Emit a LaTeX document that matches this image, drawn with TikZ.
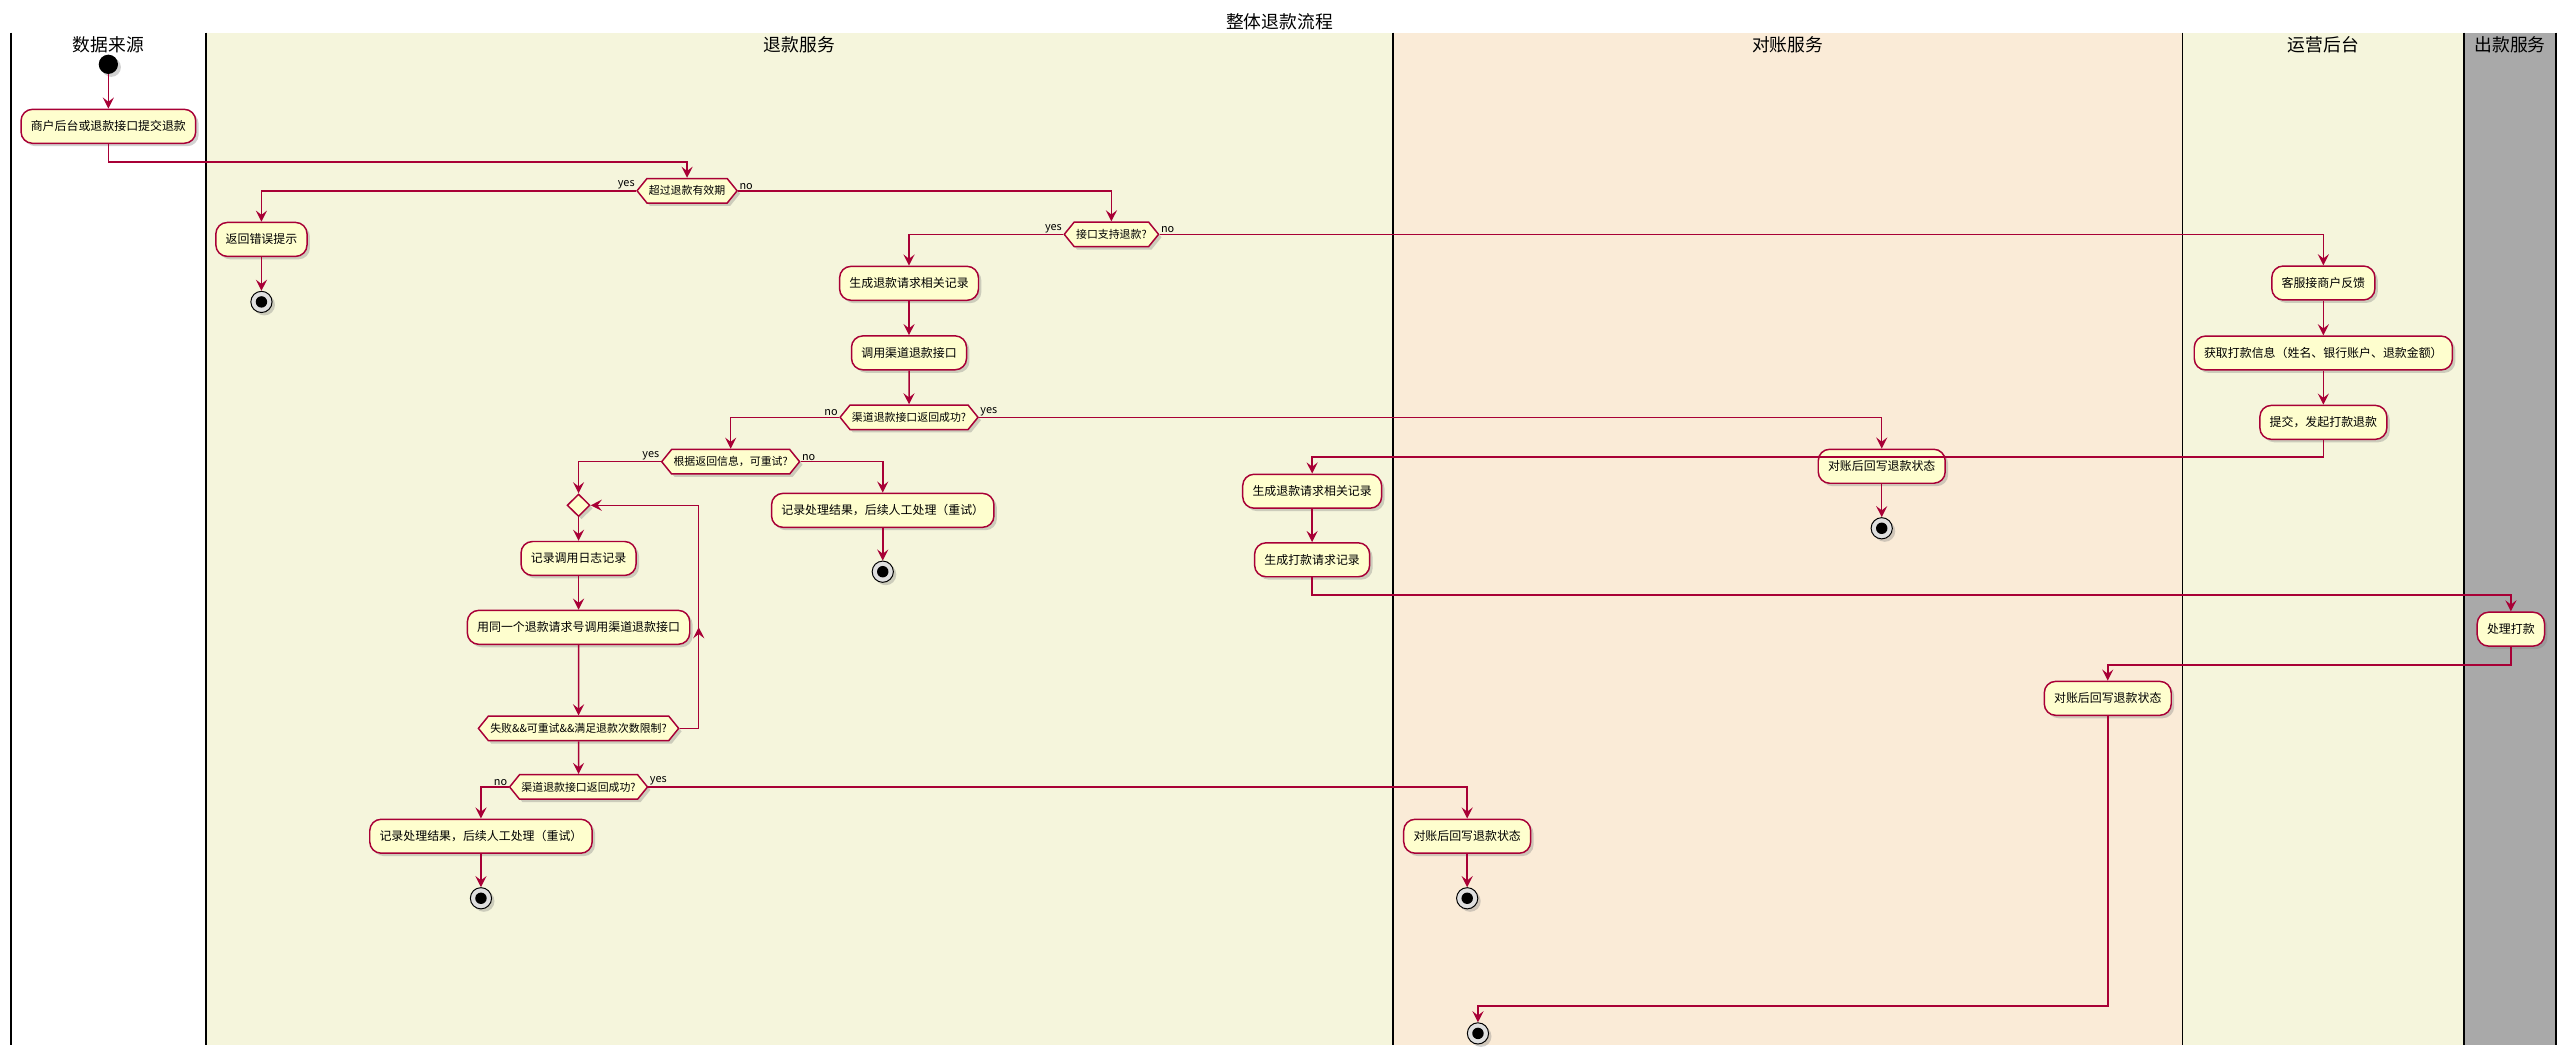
\documentclass[tikz,border=0pt]{standalone}
\usepackage{fontspec}
\setmainfont{Noto Sans CJK SC}
\usetikzlibrary{positioning, arrows.meta, shapes.geometric, shapes.symbols, shadows}
\definecolor{umlred}{HTML}{A80036}
\definecolor{umlfill}{HTML}{FEFECE}
\definecolor{laneA}{HTML}{F5F5DC}
\definecolor{laneB}{HTML}{FAEBD7}
\definecolor{laneC}{HTML}{A9A9A9}
\tikzset{
    flow/.style={draw=umlred, line width=0.45mm, -{Stealth[length=3.4mm, width=3.4mm, inset=1.3mm]}},
    umlshadow/.style={drop shadow={shadow xshift=0.9mm, shadow yshift=-0.9mm, opacity=0.35}},
    act/.style={rectangle, rounded corners=3.5mm, draw=umlred, line width=0.45mm, fill=umlfill,
        minimum height=10.4mm, inner xsep=3mm, font=\fontsize{10.4}{12}\selectfont, umlshadow},
    choice/.style={signal, signal to=west and east, signal pointer angle=102, draw=umlred,
        line width=0.45mm, fill=umlfill, minimum height=7.5mm, inner xsep=0.6mm, inner ysep=0.5mm,
        font=\fontsize{9.5}{11}\selectfont, umlshadow},
    merge/.style={diamond, draw=umlred, line width=0.45mm, fill=umlfill, inner sep=0,
        minimum width=7mm, minimum height=6.9mm, umlshadow},
    startpt/.style={circle, fill=black, minimum size=5.9mm, inner sep=0, umlshadow},
    endpt/.style={circle, draw=black, line width=0.3mm, fill=gray!25, minimum size=6.5mm, inner sep=0,
        path picture={\fill[black] (path picture bounding box.center) circle (1.75mm);}, umlshadow},
    lanetitle/.style={font=\fontsize{15.5}{18}\selectfont},
    lbl/.style={font=\fontsize{9.5}{11}\selectfont, inner sep=0.4mm},
}

\begin{document}
\begin{tikzpicture}[x=0.5mm, y=-0.5mm]
    \fill[white, use as bounding box] (0,0) rectangle (1568,646);
    % swimlanes
    \fill[laneA] (126.2,20) rectangle (853.5,640);
    \fill[laneB] (853.5,20) rectangle (1337.3,640);
    \fill[laneA] (1337.3,20) rectangle (1510,640);
    \fill[laneC] (1510,20) rectangle (1566,640);
    \foreach \x in {6.6,126.2,853.5,1337.3,1510,1566}
        \draw[line width=0.55mm] (\x,20) -- (\x,640);

    \node[lanetitle] (title) at (784,13.3) {整体退款流程};
    \node[lanetitle] (src) at (66.4,27.6) {数据来源};
    \node[lanetitle] (refund) at (489.8,27.6) {退款服务};
    \node[lanetitle] (recon) at (1095.4,27.6) {对账服务};
    \node[lanetitle] (ops) at (1423.6,27.6) {运营后台};
    \node[lanetitle] (pay) at (1538,27.6) {出款服务};

    % nodes
    \node[startpt] (s0) at (66.4,39.4) {};
    \node[act] (a1) at (66.4,77.4) {商户后台或退款接口提交退款};
    \node[choice] (d1) at (421,116.9) {超过退款有效期};
    \node[act] (a2) at (160.2,146.7) {返回错误提示};
    \node[endpt] (e1) at (160.2,185) {};
    \node[choice] (d2) at (681,143.6) {接口支持退款?};
    \node[act] (a3) at (557,173.6) {生成退款请求相关记录};
    \node[act] (a4) at (557,216.2) {调用渠道退款接口};
    \node[choice] (d3) at (557,255.7) {渠道退款接口返回成功?};
    \node[choice] (d4) at (447.7,282.9) {根据返回信息，可重试?};
    \node[act] (a5) at (540.9,312.7) {记录处理结果，后续人工处理（重试）};
    \node[endpt] (e2) at (540.9,350.3) {};
    \node[merge] (m1) at (354.5,309.6) {};
    \node[act] (a6) at (354.5,342.2) {记录调用日志记录};
    \node[act] (a7) at (354.5,384.4) {用同一个退款请求号调用渠道退款接口};
    \node[choice] (d5) at (354.5,446.3) {失败\&\&可重试\&\&满足退款次数限制?};
    \node[choice] (d6) at (354.5,482.2) {渠道退款接口返回成功?};
    \node[act] (a8) at (294.7,512.4) {记录处理结果，后续人工处理（重试）};
    \node[endpt] (e3) at (294.7,550.4) {};
    \node[act] (b1) at (899,512.4) {对账后回写退款状态};
    \node[endpt] (e4) at (899,550.4) {};
    \node[act] (b2) at (1153,285.7) {对账后回写退款状态};
    \node[endpt] (e5) at (1153,323.7) {};
    \node[act] (c1) at (1423.6,173.4) {客服接商户反馈};
    \node[act] (c2) at (1423.6,216.3) {获取打款信息（姓名、银行账户、退款金额）};
    \node[act] (c3) at (1423.6,258.8) {提交，发起打款退款};
    \node[act] (a9) at (804,301) {生成退款请求相关记录};
    \node[act] (a10) at (804,343) {生成打款请求记录};
    \node[act] (p1) at (1538.5,385.5) {处理打款};
    \node[act] (b3) at (1291.5,427.9) {对账后回写退款状态};
    \node[endpt] (e6) at (905.6,633.2) {};

    % connectors
    \draw[flow] (s0) -- (a1);
    \draw[flow] (a1.south) -- ++(0,11) -| (d1.north);
    \draw[flow] (d1.west) -| (a2.north);
    \draw[flow] (a2) -- (e1);
    \draw[flow] (d1.east) -| (d2.north);
    \draw[flow] (d2.west) -| (a3.north);
    \draw[flow] (d2.east) -| (c1.north);
    \draw[flow] (a3) -- (a4);
    \draw[flow] (a4) -- (d3);
    \draw[flow] (d3.west) -| (d4.north);
    \draw[flow] (d3.east) -| (b2.north);
    \draw[flow] (d4.west) -| (m1.north);
    \draw[flow] (d4.east) -| (a5.north);
    \draw[flow] (a5) -- (e2);
    \draw[flow] (m1) -- (a6);
    \draw[flow] (a6) -- (a7);
    \draw[flow] (a7) -- (d5);
    \draw[flow] (d5.east) -- ++(11.7,0) -- ++(0,-62);
    \draw[flow] (d5.east) ++(11.7,0) |- (m1.east);
    \draw[flow] (d5) -- (d6);
    \draw[flow] (d6.west) -| (a8.north);
    \draw[flow] (d6.east) -| (b1.north);
    \draw[flow] (a8) -- (e3);
    \draw[flow] (b1) -- (e4);
    \draw[flow] (b2) -- (e5);
    \draw[flow] (c1) -- (c2);
    \draw[flow] (c2) -- (c3);
    \draw[flow] (c3.south) -- ++(0,10.4) -| (a9.north);
    \draw[flow] (a9) -- (a10);
    \draw[flow] (a10.south) -- ++(0,10.8) -| (p1.north);
    \draw[flow] (p1.south) -- ++(0,11.1) -| (b3.north);
    \draw[flow] (b3.south) -- ++(0,177.7) -| (e6.north);

    % branch labels
    \node[lbl, anchor=south east] (y1) at (d1.west) {yes};
    \node[lbl, anchor=south west] (n1) at (d1.east) {no};
    \node[lbl, anchor=south east] (y2) at (d2.west) {yes};
    \node[lbl, anchor=south west] (n2) at (d2.east) {no};
    \node[lbl, anchor=south east] (n3) at (d3.west) {no};
    \node[lbl, anchor=south west] (y3) at (d3.east) {yes};
    \node[lbl, anchor=south east] (y4) at (d4.west) {yes};
    \node[lbl, anchor=south west] (n4) at (d4.east) {no};
    \node[lbl, anchor=south east] (n6) at (d6.west) {no};
    \node[lbl, anchor=south west] (y6) at (d6.east) {yes};
\end{tikzpicture}
\end{document}
